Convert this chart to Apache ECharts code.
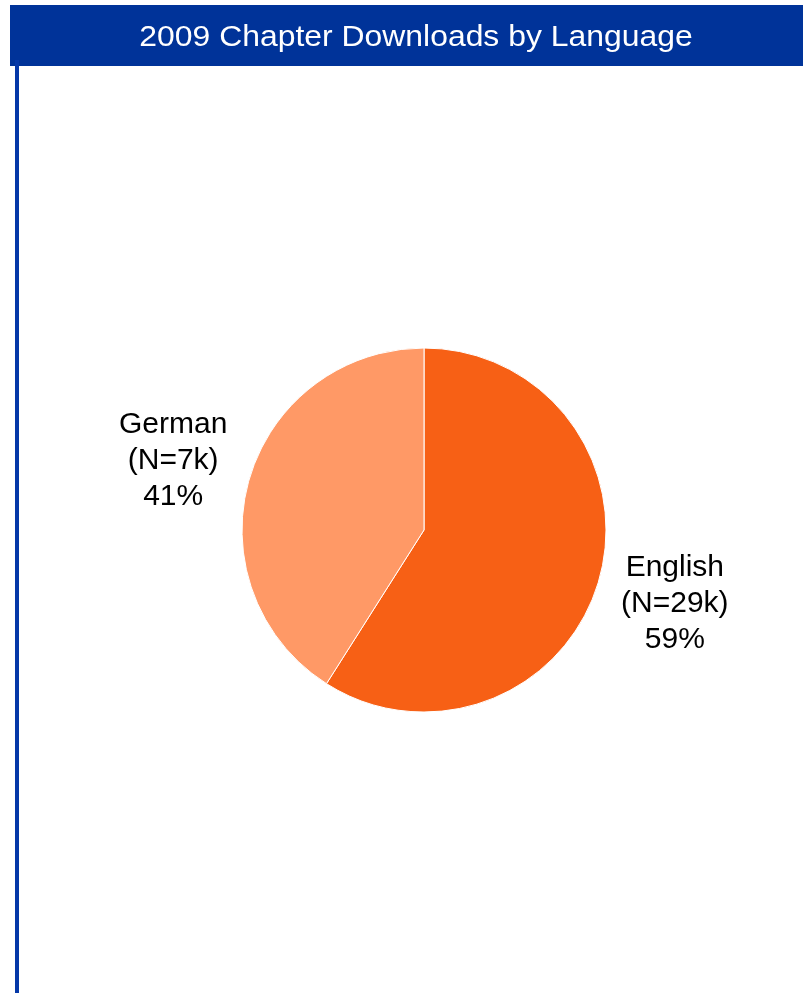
<!DOCTYPE html>
<html>
<head>
<meta charset="utf-8">
<script src="https://cdn.jsdelivr.net/npm/echarts@6/dist/echarts.min.js"></script>
<style>
  html, body { margin: 0; padding: 0; background: #fff; }
  #chart { width: 803px; height: 993px; }
</style>
</head>
<body>
<div id="chart"></div>
<script>
var titleText = '2009 Chapter Downloads by Language';
var languages = ['English', 'German'];
var shares = [59, 41];
var counts = ['29k', '7k'];
var sliceColors = ['#F76015', '#FF9966'];

var cx = 424, cy = 530;

var chart = echarts.init(document.getElementById('chart'));
var option = {
	animation : false,
	graphic : [ {
		type : 'rect',
		z : -1,
		shape : { x : 10, y : 5, width : 800, height : 61 },
		style : { fill : '#003399' }
	}, {
		type : 'rect',
		z : -1,
		shape : { x : 15, y : 60, width : 4, height : 940 },
		style : { fill : '#0538A8' }
	}, {
		// header title, slightly wide like the original
		type : 'text',
		x : 416,
		y : 38,
		scaleX : 1.1,
		style : {
			text : titleText,
			fill : '#ffffff',
			font : '29px "Liberation Sans", Arial, sans-serif',
			align : 'center',
			verticalAlign : 'middle'
		}
	} ],
	series : [ {
		type : 'pie',
		center : [ cx, cy ],
		radius : 182,
		startAngle : 90,
		clockwise : true,
		data : languages.map(function (name, i) {
			return {
				name : name,
				value : shares[i],
				count : counts[i],
				itemStyle : { color : sliceColors[i] }
			};
		}),
		itemStyle : { borderColor : '#ffffff', borderWidth : 1 },
		label : {
			position : 'outside',
			formatter : function (p) {
				return p.name + '\n(N=' + p.data.count + ')\n' + p.value + '%';
			},
			color : '#000000',
			fontFamily : 'Liberation Sans, Arial, sans-serif',
			fontSize : 30,
			lineHeight : 36
		},
		labelLine : { show : false, length : 74, length2 : 0 },
		labelLayout : function (p) {
			// put the middle of the text block on the label anchor
			var r = p.labelRect;
			var onRight = r.x + r.width / 2 > cx;
			var ax = onRight ? r.x : r.x + r.width;
			return {
				x : ax,
				y : r.y + r.height / 2 + 2,
				align : 'center',
				verticalAlign : 'middle'
			};
		},
		emphasis : { disabled : true }
	} ]
};
chart.setOption(option);
</script>
</body>
</html>
